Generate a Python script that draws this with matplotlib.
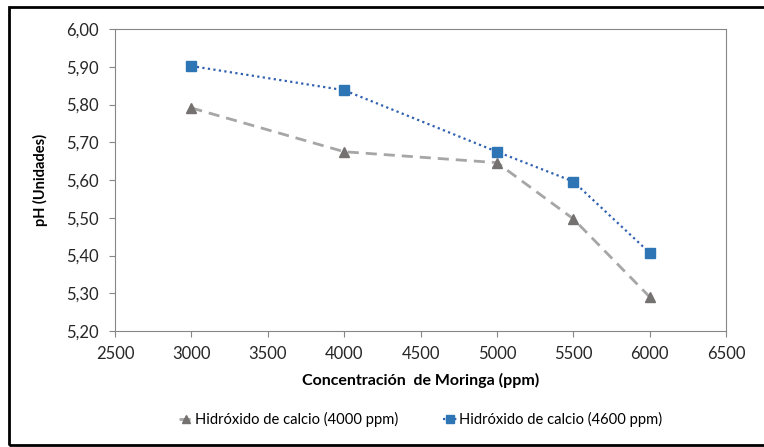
import matplotlib.pyplot as plt
from matplotlib.patches import Rectangle
from matplotlib.ticker import FuncFormatter

plt.rcParams['font.family'] = ['Lato', 'DejaVu Sans']

conc = [3000, 4000, 5000, 5500, 6000]
ph_4000 = [5.791, 5.675, 5.646, 5.497, 5.290]
ph_4600 = [5.902, 5.838, 5.675, 5.596, 5.407]
labels = ['Hidróxido de calcio (4000 ppm)', 'Hidróxido de calcio (4600 ppm)']

fig = plt.figure(figsize=(7.64, 4.47), dpi=100)
ax = fig.add_axes([0.1505, 0.2595, 0.80, 0.6755])

ax.plot(conc, ph_4000, color='#A6A6A6', lw=2, dashes=(4, 2.5),
        marker='^', ms=7, mfc='#767171', mec='#767171', label=labels[0])
ax.plot(conc, ph_4600, color='#3060B0', lw=1.6, ls=(0, (1, 1.5)),
        marker='s', ms=7, mfc='#2E75B6', mec='#2E75B6', label=labels[1])

ax.set_xlim(2500, 6500)
ax.set_ylim(5.2, 6.0)
ax.set_xticks(range(2500, 6501, 500))
ax.set_yticks([5.2 + 0.1 * i for i in range(9)])
ax.yaxis.set_major_formatter(FuncFormatter(lambda v, p: f'{v:.2f}'.replace('.', ',')))

for s in ax.spines.values():
    s.set_color('#868686')
ax.tick_params(colors='#868686', labelcolor='#262626', labelsize=12, length=4, direction='out')
ax.tick_params(axis='y', pad=8)
ax.tick_params(axis='x', pad=7)

ax.set_xlabel('Concentración  de Moringa (ppm)', fontsize=11.5, fontweight='bold', labelpad=8)
ax.set_ylabel('pH (Unidades)', fontsize=10.5, fontweight='bold', labelpad=13)

ax.legend(loc='upper center', bbox_to_anchor=(0.5, -0.225), ncol=2, frameon=False,
          fontsize=10.6, handlelength=1.0, columnspacing=3.0, handletextpad=0.1,
          markerscale=0.9)

fig.patches.append(Rectangle((0.012, 0.004), 0.995, 0.98, transform=fig.transFigure,
                             fill=False, ec='black', lw=2))

fig.savefig('out.png', dpi=100)
